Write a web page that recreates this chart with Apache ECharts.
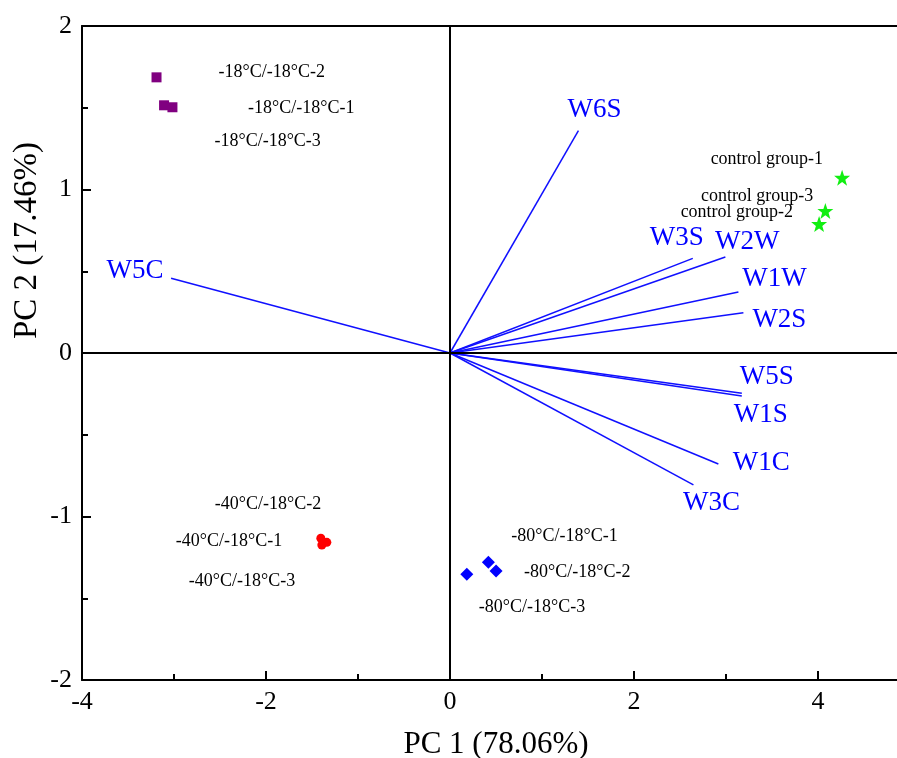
<!DOCTYPE html>
<html>
<head>
<meta charset="utf-8">
<script src="https://cdn.jsdelivr.net/npm/echarts@6/dist/echarts.min.js"></script>
<style>html,body{margin:0;padding:0;background:#fff;overflow:hidden;}#chart{width:897px;height:758px;}</style>
</head>
<body>
<div id="chart"></div>
<script>
// ---- data ----
const names18 = ['-18°C/-18°C-2', '-18°C/-18°C-1', '-18°C/-18°C-3'];
const pc1_18 = [-3.19, -3.108, -3.017];
const pc2_18 = [1.686, 1.515, 1.503];

const names40 = ['-40°C/-18°C-2', '-40°C/-18°C-1', '-40°C/-18°C-3'];
const pc1_40 = [-1.404, -1.339, -1.393];
const pc2_40 = [-1.133, -1.158, -1.174];

const names80 = ['-80°C/-18°C-1', '-80°C/-18°C-2', '-80°C/-18°C-3'];
const pc1_80 = [0.417, 0.501, 0.183];
const pc2_80 = [-1.280, -1.333, -1.353];

const namesCtrl = ['control group-1', 'control group-3', 'control group-2'];
const pc1_ctrl = [4.262, 4.08, 4.012];
const pc2_ctrl = [1.072, 0.869, 0.789];

const sensors = ['W6S', 'W3S', 'W2W', 'W1W', 'W2S', 'W5S', 'W1S', 'W1C', 'W3C', 'W5C'];
const loadPC1 = [1.396, 2.639, 2.993, 3.135, 3.189, 3.172, 3.172, 2.917, 2.646, -3.032];
const loadPC2 = [1.360, 0.579, 0.587, 0.373, 0.246, -0.246, -0.263, -0.679, -0.807, 0.457];

const xTicks = [-4, -2, 0, 2, 4];
const yTicks = [-2, -1, 0, 1, 2];
const xMax = 5; // right edge of the plot lies just outside the picture

// ---- label placement (style) ----
const labelPlace = {
  '-18°C/-18°C-2': ['left', 62, -5],
  '-18°C/-18°C-1': ['left', 84, 3],
  '-18°C/-18°C-3': ['left', 42, 34],
  '-40°C/-18°C-2': ['left', -106, -34],
  '-40°C/-18°C-1': ['left', -151, -1],
  '-40°C/-18°C-3': ['left', -133, 36],
  '-80°C/-18°C-1': ['left', 23, -26],
  '-80°C/-18°C-2': ['left', 28, 1],
  '-80°C/-18°C-3': ['left', 12, 33],
  'control group-1': ['right', -19, -18],
  'control group-3': ['right', -12, -15],
  'control group-2': ['right', -26, -12],
  'W6S': ['center', 16, -21],
  'W3S': ['center', -16, -20],
  'W2W': ['center', 22, -15],
  'W1W': ['center', 36, -13],
  'W2S': ['center', 36, 7],
  'W5S': ['center', 25, -16],
  'W1S': ['center', 19, 19],
  'W1C': ['center', 43, -1],
  'W3C': ['center', 18, 18],
  'W5C': ['center', -36, -7]
};

const FONT = "'Times New Roman', 'Liberation Serif', serif";

function pts(names, xs, ys, fontSize, color) {
  return names.map((n, i) => {
    const p = labelPlace[n];
    return {
      name: n,
      value: [xs[i], ys[i]],
      label: {
        show: true,
        formatter: n,
        position: 'inside',
        align: p[0],
        verticalAlign: 'middle',
        offset: [p[1], p[2]],
        fontFamily: FONT,
        fontSize: fontSize,
        color: color,
        opacity: 1
      }
    };
  });
}

const starPath = 'path://M0,-10 L2.35,-3.24 L9.51,-3.09 L3.8,1.24 L5.88,8.09 L0,4 L-5.88,8.09 L-3.8,1.24 L-9.51,-3.09 L-2.35,-3.24 Z';

const chart = echarts.init(document.getElementById('chart'), null, {renderer: 'canvas', width: 897, height: 758});
const blackLine = {color: '#000', width: 2};

chart.setOption({
  animation: false,
  backgroundColor: '#fff',
  grid: {left: 82, top: 26, bottom: 78, right: -13, show: false, outerBoundsMode: 'none', containLabel: false},
  xAxis: [{
    type: 'value', min: xTicks[0], max: xMax, interval: 2,
    axisLine: {show: true, onZero: false, lineStyle: blackLine},
    axisTick: {show: true, inside: true, length: 9, lineStyle: blackLine},
    minorTick: {show: true, splitNumber: 2, length: 6, lineStyle: blackLine},
    splitLine: {show: false},
    axisLabel: {fontFamily: FONT, fontSize: 26, color: '#000', margin: 9,
      formatter: v => xTicks.includes(v) ? String(v) : ''},
    name: 'PC 1 (78.06%)', nameLocation: 'middle', nameGap: 49,
    nameTextStyle: {fontFamily: FONT, fontSize: 31, color: '#000', padding: [0, 0, 0, 0]}
  }, {
    type: 'value', position: 'top', min: xTicks[0], max: xMax, interval: 2,
    axisLine: {show: true, onZero: false, lineStyle: blackLine},
    axisTick: {show: false}, axisLabel: {show: false}, splitLine: {show: false}
  }],
  yAxis: {
    type: 'value', min: yTicks[0], max: yTicks[yTicks.length - 1], interval: 1,
    axisLine: {show: true, onZero: false, lineStyle: blackLine},
    axisTick: {show: true, inside: true, length: 9, lineStyle: blackLine},
    minorTick: {show: true, splitNumber: 2, length: 6, lineStyle: blackLine},
    splitLine: {show: false},
    axisLabel: {fontFamily: FONT, fontSize: 26, color: '#000', margin: 10}
  },
  graphic: [{
    type: 'text', left: 11, top: 142, rotation: Math.PI / 2,
    style: {text: 'PC 2 (17.46%)', font: "33px 'Times New Roman', 'Liberation Serif', serif", fill: '#000'}
  }],
  series: [
    {
      type: 'lines', coordinateSystem: 'cartesian2d', polyline: false, silent: true,
      lineStyle: {color: '#1010ff', width: 1.5, opacity: 1},
      data: sensors.map((s, i) => ({name: s, coords: [[0, 0], [loadPC1[i], loadPC2[i]]]})),
      markLine: {
        silent: true, symbol: 'none', label: {show: false},
        lineStyle: {color: '#000', width: 2, type: 'solid', opacity: 1},
        data: [{xAxis: 0}, {yAxis: 0}]
      },
      z: 2
    },
    {
      type: 'scatter', symbolSize: 0, silent: true,
      itemStyle: {opacity: 1},
      data: pts(sensors, loadPC1, loadPC2, 27, '#0000ff'), z: 3
    },
    {
      type: 'scatter', symbol: 'rect', symbolSize: 10,
      itemStyle: {color: '#800080', opacity: 1},
      data: pts(names18, pc1_18, pc2_18, 18, '#000'), z: 4
    },
    {
      type: 'scatter', symbol: 'circle', symbolSize: 9,
      itemStyle: {color: '#ff0000', opacity: 1},
      data: pts(names40, pc1_40, pc2_40, 18, '#000'), z: 4
    },
    {
      type: 'scatter', symbol: 'diamond', symbolSize: 13,
      itemStyle: {color: '#0000ff', opacity: 1},
      data: pts(names80, pc1_80, pc2_80, 18, '#000'), z: 4
    },
    {
      type: 'scatter', symbol: starPath, symbolSize: 16,
      itemStyle: {color: '#11ee11', opacity: 1},
      data: pts(namesCtrl, pc1_ctrl, pc2_ctrl, 18, '#000'), z: 4
    }
  ]
});
</script>
</body>
</html>
